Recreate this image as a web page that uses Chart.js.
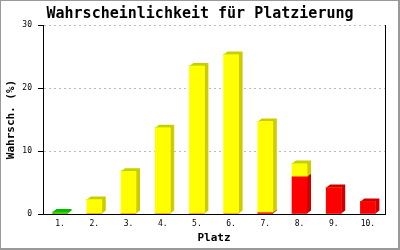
<!DOCTYPE html>
<html>
<head>
<meta charset="utf-8">
<script src="https://cdn.jsdelivr.net/npm/chart.js@4/dist/chart.umd.min.js"></script>
<style>
  html, body { margin: 0; padding: 0; background: #fff; }
  canvas { display: block; }
</style>
</head>
<body>
<canvas id="myChart" width="400" height="250"></canvas>
<script>
var plaetze = ["1.", "2.", "3.", "4.", "5.", "6.", "7.", "8.", "9.", "10."];
var rot = [0, 0, 0, 0, 0, 0, 0.2, 5.9, 4.2, 2.0];
var gelb = [0, 2.3, 6.8, 13.7, 23.5, 25.3, 14.5, 2.1, 0, 0];
var gruen = [0.3, 0, 0, 0, 0, 0, 0, 0, 0, 0];
var yTicks = [0, 10, 20, 30];

var mono = "'DejaVu Sans Mono', 'Liberation Mono', monospace";

// side + top faces drawn behind the front of each bar
var bars3d = {
  id: "bars3d",
  beforeDatasetsDraw: function (chart) {
    var ctx = chart.ctx;
    var dx = 4, dy = 3;
    chart.data.datasets.forEach(function (ds, i) {
      var meta = chart.getDatasetMeta(i);
      meta.data.forEach(function (bar, j) {
        if (!ds.data[j]) return;
        var l = bar.x - bar.width / 2;
        var r = bar.x + bar.width / 2;
        var t = bar.y;
        var b = bar.base;
        ctx.save();
        ctx.fillStyle = ds.sideColor;
        ctx.beginPath();
        ctx.moveTo(r, b);
        ctx.lineTo(r, t);
        ctx.lineTo(l, t);
        ctx.lineTo(l + dx, t - dy);
        ctx.lineTo(r + dx, t - dy);
        ctx.lineTo(r + dx, b - dy);
        ctx.closePath();
        ctx.fill();
        ctx.restore();
      });
    });
  },
  afterDraw: function (chart) {
    var ctx = chart.ctx;
    ctx.save();
    ctx.fillStyle = "#999";
    ctx.fillRect(0, 0, 400, 1);
    ctx.fillRect(0, 0, 1, 250);
    ctx.fillRect(398, 0, 2, 250);
    ctx.fillRect(0, 248, 400, 2);
    ctx.restore();
  },
};

var ctx = document.getElementById("myChart");
var myChart = new Chart(ctx, {
  type: "bar",
  data: {
    labels: plaetze,
    datasets: [
      { label: "rot", data: rot, backgroundColor: "#ff0000", sideColor: "#cc0000" },
      { label: "gelb", data: gelb, backgroundColor: "#ffff00", sideColor: "#cccc00" },
      { label: "gruen", data: gruen, backgroundColor: "#00ee00", sideColor: "#00bb00" },
    ],
  },
  options: {
    responsive: false,
    animation: false,
    layout: { padding: 0 },
    datasets: {
      bar: { barThickness: 15, borderWidth: 0 },
    },
    plugins: {
      legend: { display: false },
      tooltip: { enabled: false },
      title: {
        display: true,
        text: "Wahrscheinlichkeit für Platzierung",
        color: "#000",
        font: { family: mono, size: 15, weight: "bold" },
        padding: { top: 5, bottom: 2 },
      },
    },
    scales: {
      x: {
        stacked: true,
        grid: { display: false, drawTicks: false },
        border: { display: true, color: "#000", width: 1 },
        ticks: {
          color: "#000",
          padding: 5,
          font: { family: mono, size: 8 },
          maxRotation: 0,
        },
        title: {
          display: true,
          text: "Platz",
          color: "#000",
          font: { family: mono, size: 11, weight: "bold" },
          padding: { top: 0, bottom: 5 },
        },
        afterFit: function (s) {
          s.height = 36;
        },
      },
      y: {
        stacked: true,
        min: 0,
        max: 30,
        afterBuildTicks: function (s) {
          s.ticks = yTicks.map(function (v) {
            return { value: v };
          });
        },
        grid: {
          color: "#bbbbbb",
          tickColor: "#000",
          tickLength: 5,
        },
        border: { display: true, color: "#000", width: 1, dash: [2, 3] },
        ticks: {
          color: "#000",
          padding: 6,
          font: { family: mono, size: 8 },
        },
        title: {
          display: true,
          text: "Wahrsch. (%)",
          color: "#000",
          font: { family: mono, size: 11, weight: "bold" },
          padding: { top: 5, bottom: 0 },
        },
        afterFit: function (s) {
          s.width = 43;
        },
      },
      // right frame line only
      y2: {
        position: "right",
        min: 0,
        max: 30,
        grid: { drawOnChartArea: false, drawTicks: false },
        border: { display: true, color: "#000", width: 1 },
        ticks: { display: false },
        afterFit: function (s) {
          s.width = 15;
        },
      },
    },
  },
  plugins: [bars3d],
});
</script>
</body>
</html>
